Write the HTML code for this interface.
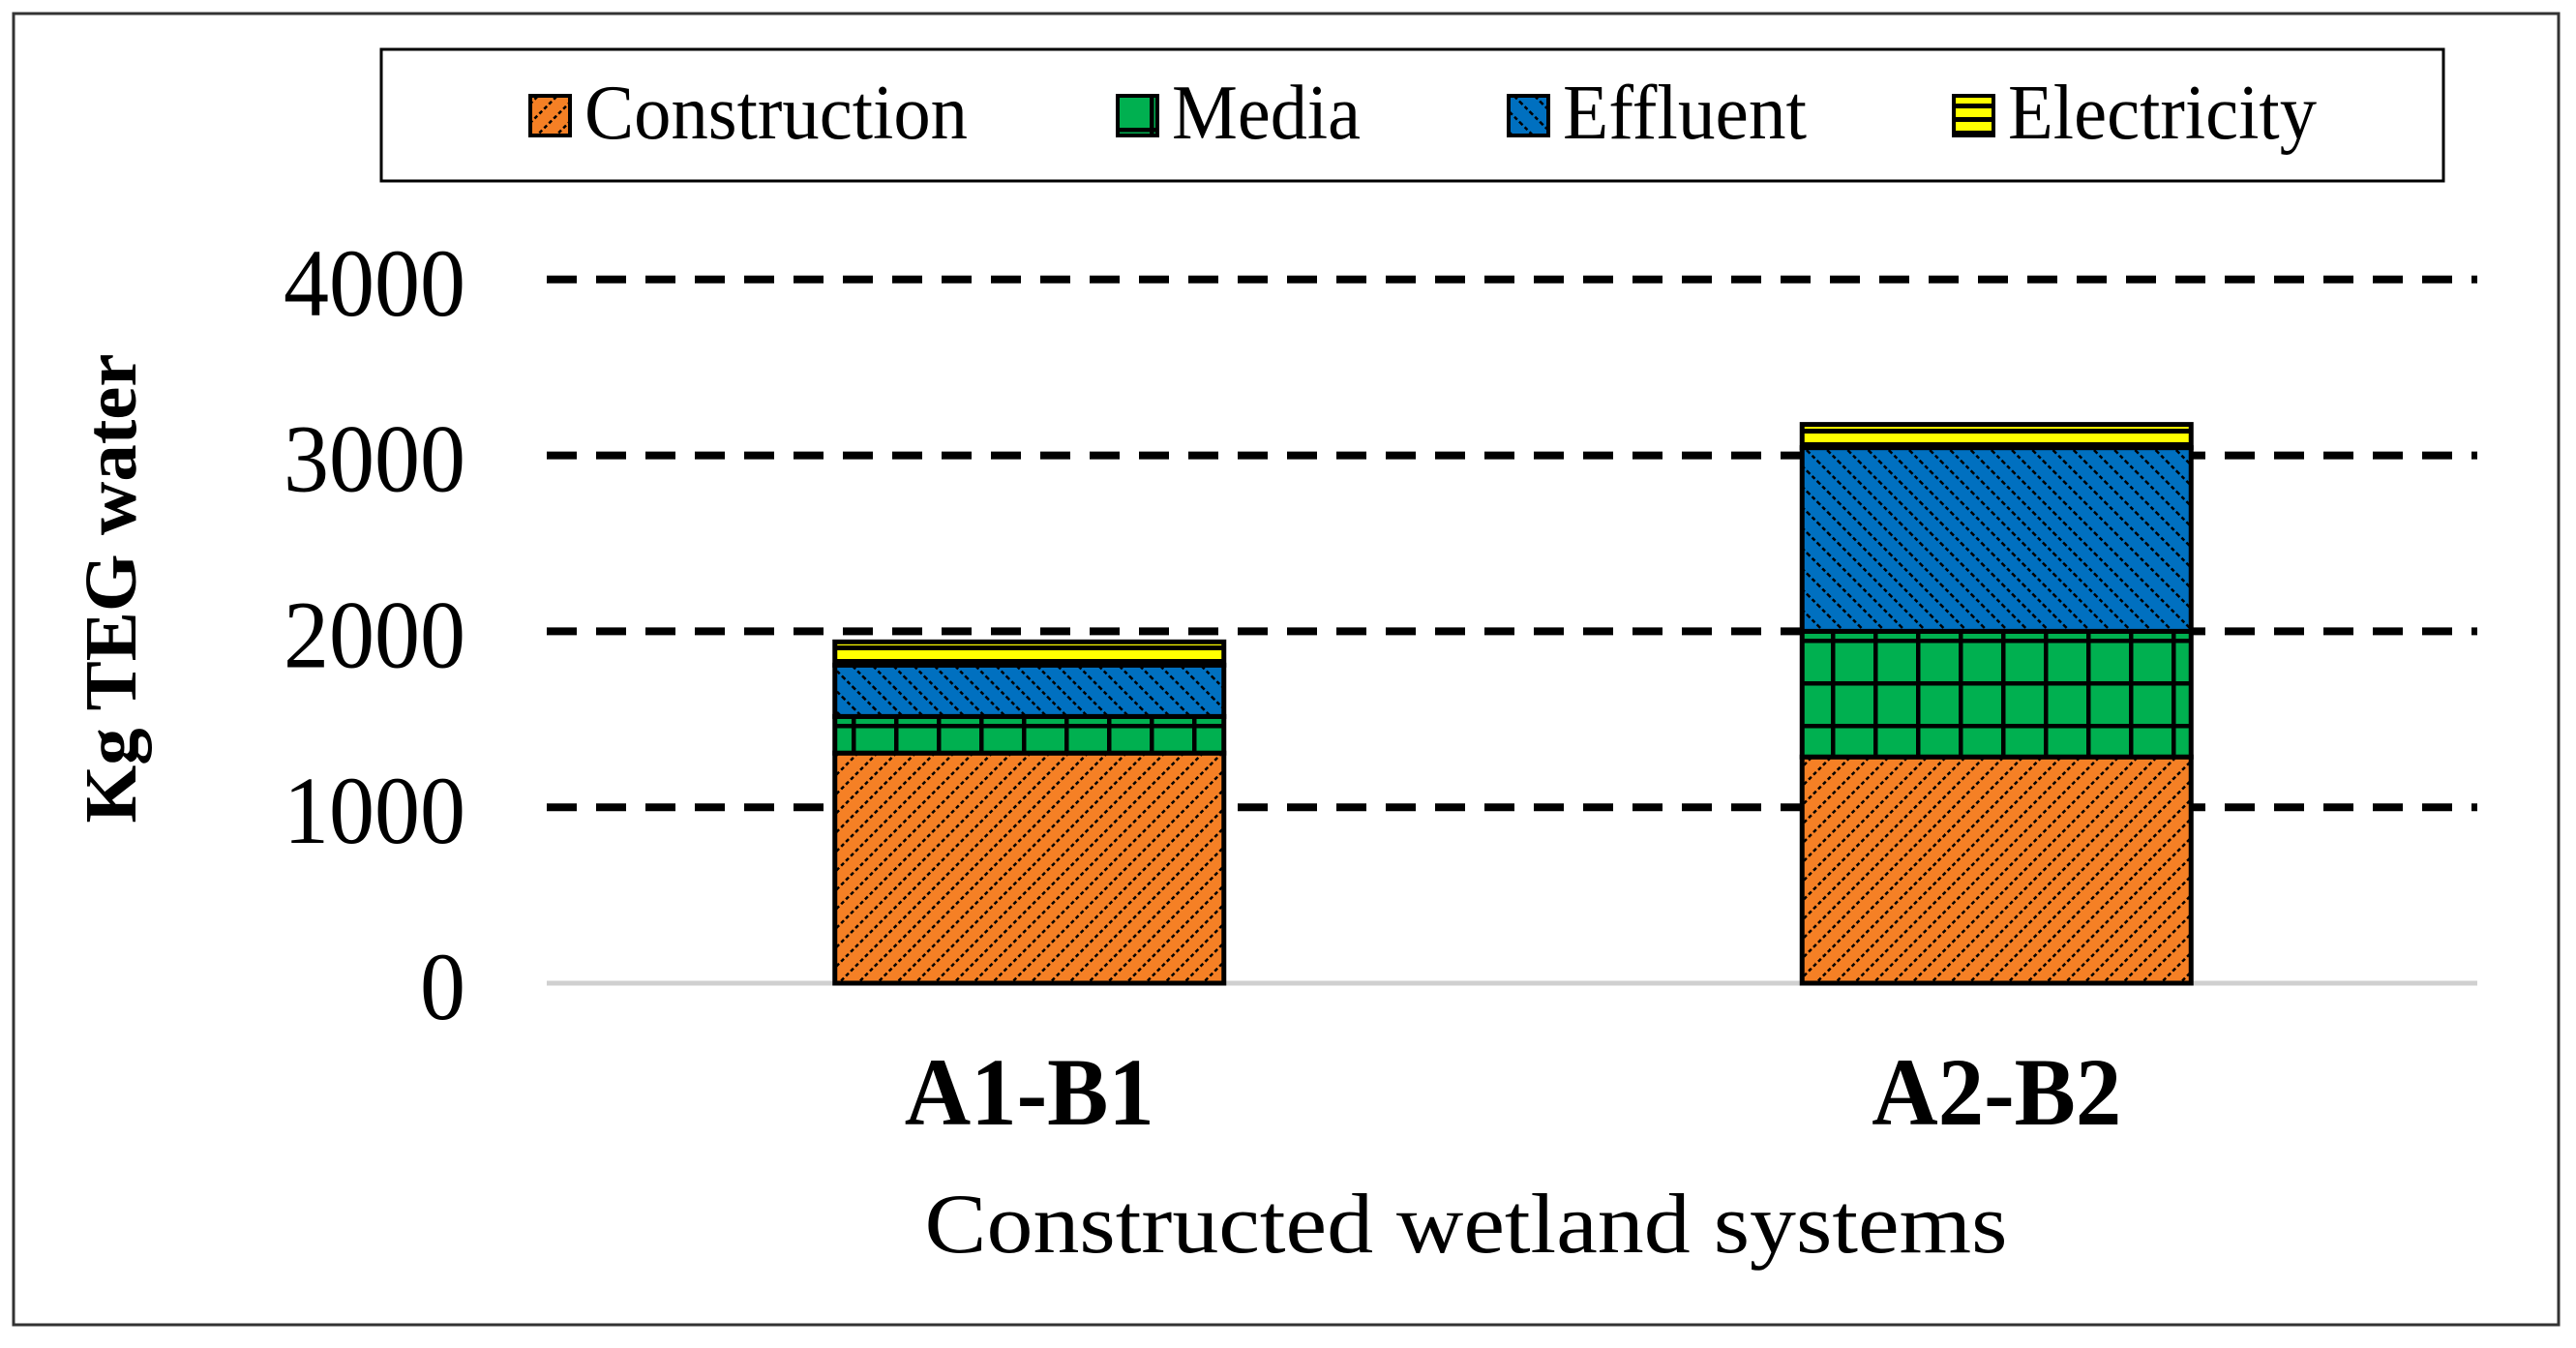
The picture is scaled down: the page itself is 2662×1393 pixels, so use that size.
<!DOCTYPE html>
<html><head><meta charset="utf-8"><style>
html,body{margin:0;padding:0;background:#fff;}
svg{display:block;font-family:"Liberation Serif",serif;}
</style></head><body>
<svg width="2662" height="1393" viewBox="0 0 2662 1393">
<defs>
<pattern id="pc" width="14" height="14" patternUnits="userSpaceOnUse" patternTransform="rotate(45)">
<rect width="14" height="14" fill="#f58025"/><line x1="0" y1="0" x2="0" y2="14" stroke="#000" stroke-width="5" stroke-dasharray="4 3"/></pattern>
<pattern id="pm" width="44" height="44" patternUnits="userSpaceOnUse">
<rect width="44" height="44" fill="#00b050"/><path d="M0 2H44M2 0V44" stroke="#000" stroke-width="5"/></pattern>
<pattern id="pe" width="15" height="15" patternUnits="userSpaceOnUse" patternTransform="rotate(-45)">
<rect width="15" height="15" fill="#0070c0"/><line x1="0" y1="0" x2="0" y2="15" stroke="#000" stroke-width="5" stroke-dasharray="4 3"/></pattern>
<pattern id="py" width="20" height="14" patternUnits="userSpaceOnUse">
<rect width="20" height="14" fill="#ffff00"/><rect y="9" width="20" height="5" fill="#000"/></pattern>
</defs>
<rect x="14" y="14" width="2630" height="1355" fill="#fff" stroke="#333" stroke-width="3"/>
<g id="legend">
<rect x="394" y="51" width="2131" height="136" fill="#fff" stroke="#000" stroke-width="3"/>
</g>
<g id="grid"></g>
<g id="bars"></g>
<g id="labels"></g>
<text transform="translate(140,608) rotate(-90)" text-anchor="middle" font-size="76" font-weight="bold" textLength="485" lengthAdjust="spacingAndGlyphs">Kg TEG water</text>
<text x="1515" y="1294" text-anchor="middle" font-size="88" textLength="1119" lengthAdjust="spacingAndGlyphs">Constructed wetland systems</text>
</svg>
<script>
const categories=["A1-B1","A2-B2"];
const seriesNames=["Construction","Media","Effluent","Electricity"];
const construction=[1308,1286];
const media=[208,714];
const effluent=[292,1044];
const electricity=[132,132];
const yTicks=[0,1000,2000,3000,4000];
const ns="http://www.w3.org/2000/svg";
const fills=["url(#pc)","url(#pm)","url(#pe)","url(#py)"];
const series=[construction,media,effluent,electricity];
const X0=565,X1=2560,Y0=1016,PX=0.1818;
const y=v=>Y0-v*PX;
const bandW=(X1-X0)/categories.length;
const xc=i=>X0+bandW*(i+0.5)+ (i===0?0:2);
const BW=402;
function mk(tag,attrs,parent){const e=document.createElementNS(ns,tag);for(const k in attrs)e.setAttribute(k,attrs[k]);parent.appendChild(e);return e;}
const grid=document.getElementById('grid'),bars=document.getElementById('bars'),labels=document.getElementById('labels'),legend=document.getElementById('legend');
yTicks.forEach(t=>{
  let l;
  if(t===0){l=mk('line',{x1:X0,x2:X1,y1:y(t),y2:y(t),stroke:'#d0d0d0','stroke-width':5},grid);}
  else{l=mk('line',{x1:X0,x2:X1,y1:y(t),y2:y(t),stroke:'#000','stroke-width':8,'stroke-dasharray':'31 20'},grid);}
  
  
  const s=String(t);
  const tx=mk('text',{x:481,y:y(t)+37,'text-anchor':'end','font-size':100,textLength:47*s.length,lengthAdjust:'spacingAndGlyphs'},labels);
  tx.textContent=s;
  
  
});
categories.forEach((c,i)=>{
  let base=0;
  const g=mk('g',{},bars);
  
  
  series.forEach((s,k)=>{
    const v=s[i];
    const r=mk('rect',{x:xc(i)-BW/2,y:y(base+v),width:BW,height:v*PX,fill:fills[k],stroke:'#000','stroke-width':5},g);
    
    
    base+=v;
  });
  const t=mk('text',{x:xc(i),y:1162,'text-anchor':'middle','font-size':100,'font-weight':'bold',textLength:258,lengthAdjust:'spacingAndGlyphs'},labels);
  t.textContent=c;
  
  
});
const legX=[548,1155,1559,2019],legTW=[396,195,252,319];
seriesNames.forEach((n,k)=>{
  const r=mk('rect',{x:legX[k],y:99,width:41,height:41,fill:fills[k],stroke:'#000','stroke-width':4},legend);
  
  
  const t=mk('text',{x:legX[k]+56,y:143,'font-size':80,textLength:legTW[k],lengthAdjust:'spacingAndGlyphs'},legend);
  t.textContent=n;
  
  
});
</script>
</body></html>
